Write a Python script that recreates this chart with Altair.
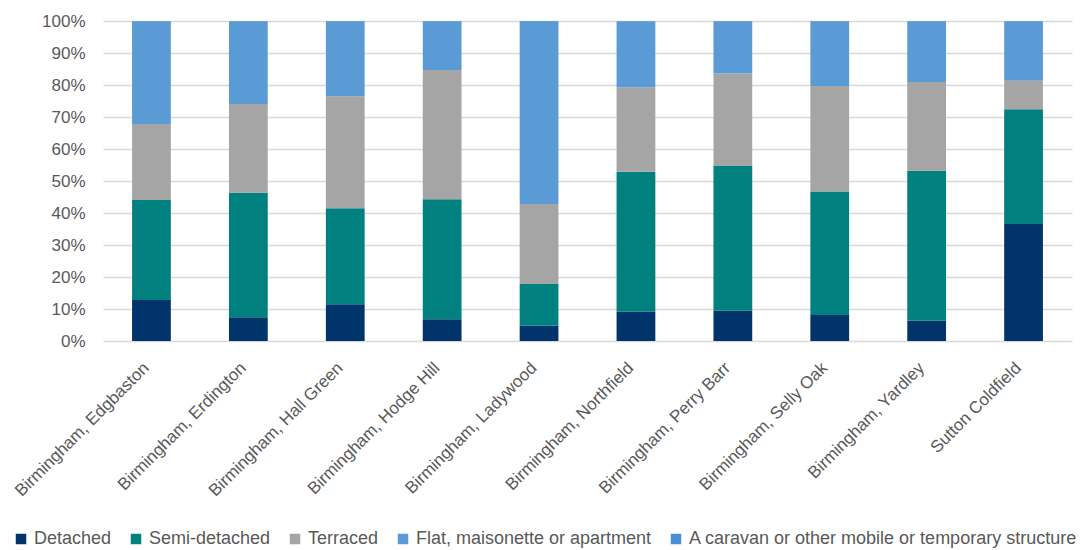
import altair as alt
import pandas as pd

constituencies = [
    "Birmingham, Edgbaston", "Birmingham, Erdington", "Birmingham, Hall Green",
    "Birmingham, Hodge Hill", "Birmingham, Ladywood", "Birmingham, Northfield",
    "Birmingham, Perry Barr", "Birmingham, Selly Oak", "Birmingham, Yardley",
    "Sutton Coldfield",
]
series = [
    "Detached", "Semi-detached", "Terraced", "Flat, maisonette or apartment",
    "A caravan or other mobile or temporary structure",
]
detached = [12.8, 7.4, 11.5, 6.8, 4.8, 9.2, 9.5, 8.1, 6.3, 36.6]
semi_detached = [31.3, 38.9, 30.0, 37.5, 13.0, 43.7, 45.2, 38.6, 46.9, 35.8]
terraced = [23.7, 27.8, 35.0, 40.4, 25.0, 26.4, 28.9, 33.0, 27.7, 8.9]
flat = [32.1, 25.8, 23.4, 15.2, 57.0, 20.6, 16.3, 20.2, 19.0, 18.6]
caravan = [0.1, 0.1, 0.1, 0.1, 0.2, 0.1, 0.1, 0.1, 0.1, 0.1]
colors = ["#00346b", "#00807f", "#a5a5a5", "#5b9bd5", "#4a8fd6"]

rows = []
for vals, name in zip([detached, semi_detached, terraced, flat, caravan], series):
    for i, (c, v) in enumerate(zip(constituencies, vals)):
        rows.append({"area": c, "type": name, "value": v, "order": series.index(name)})
df = pd.DataFrame(rows)

FONT = "Liberation Sans"
GREY = "#595959"

chart = alt.Chart(df).mark_bar().encode(
    x=alt.X("area:N", sort=constituencies, title=None,
            scale=alt.Scale(paddingInner=0.6, paddingOuter=0.3),
            axis=alt.Axis(labelAngle=-45, labelAlign="right", labelBaseline="middle",
                          labelPadding=24, labelOffset=-5, ticks=False, domain=False,
                          labelLimit=400,
                          labelFontSize=17, labelColor=GREY, labelFont=FONT)),
    y=alt.Y("value:Q", stack="normalize", title=None,
            scale=alt.Scale(domain=[0, 1]),
            axis=alt.Axis(format="%", values=[i / 10 for i in range(11)],
                          ticks=False, domain=False, gridColor="#d9d9d9", gridWidth=1.5,
                          labelFontSize=17, labelColor=GREY, labelFont=FONT,
                          labelPadding=18)),
    color=alt.Color("type:N", sort=series,
                    scale=alt.Scale(domain=series, range=colors),
                    legend=alt.Legend(title=None, orient="none", direction="horizontal",
                                      columns=5, legendX=-91, legendY=509,
                                      symbolType="square", symbolSize=110,
                                      symbolStrokeWidth=0, labelFontSize=18,
                                      labelColor=GREY, labelFont=FONT,
                                      columnPadding=15, labelOffset=4,
                                      labelLimit=0)),
    order=alt.Order("order:Q", sort="ascending"),
).properties(
    width=969, height=320,
    autosize=alt.AutoSizeParams(type="none"),
    padding={"left": 103, "top": 21, "right": 17, "bottom": 209},
).configure_view(stroke=None)

chart.save("out.html", embed_options={"renderer": "svg", "actions": False})
